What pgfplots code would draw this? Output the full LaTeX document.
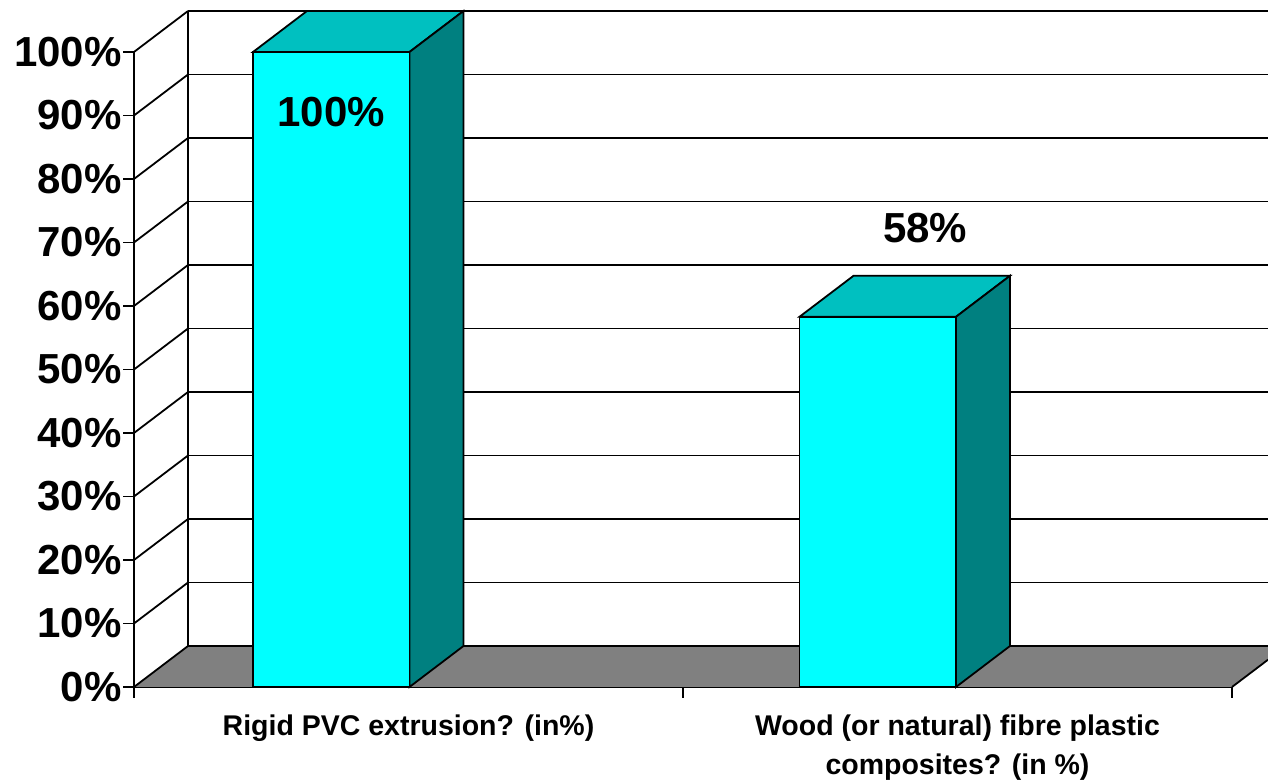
\documentclass[border=0pt]{standalone}
\usepackage{fontspec}
\setmainfont{Liberation Sans}
\usepackage{pgfplots}
\pgfplotsset{compat=1.18}
\usepackage{pgfplotstable}
\definecolor{barfront}{HTML}{00FFFF}
\definecolor{bartop}{HTML}{00C0C0}
\definecolor{barside}{HTML}{008080}
\definecolor{floorgray}{HTML}{808080}
% back wall grid lines and the diagonals that join them to the front axis
\pgfplotstableread{
x y
0.0984 6.457
2.0656 6.457
nan nan
0.0984 16.457
2.0656 16.457
nan nan
0.0984 26.457
2.0656 26.457
nan nan
0.0984 36.457
2.0656 36.457
nan nan
0.0984 46.457
2.0656 46.457
nan nan
0.0984 56.457
2.0656 56.457
nan nan
0.0984 66.457
2.0656 66.457
nan nan
0.0984 76.457
2.0656 76.457
nan nan
0.0984 86.457
2.0656 86.457
nan nan
0.0984 96.457
2.0656 96.457
nan nan
0.0984 106.457
2.0656 106.457
}\gridlines
\pgfplotstableread{
x y
0 0
0.0984 6.457
nan nan
0 10
0.0984 16.457
nan nan
0 20
0.0984 26.457
nan nan
0 30
0.0984 36.457
nan nan
0 40
0.0984 46.457
nan nan
0 50
0.0984 56.457
nan nan
0 60
0.0984 66.457
nan nan
0 70
0.0984 76.457
nan nan
0 80
0.0984 86.457
nan nan
0 90
0.0984 96.457
nan nan
0 100
0.0984 106.457
nan nan
0.0984 6.457
0.0984 106.457
nan nan
2 0
2.0656 4.3
}\walledges
\begin{document}
\begin{tikzpicture}
\path[use as bounding box] (0,0) rectangle (634pt,390pt);
\begin{axis}[
  at={(67pt,46.5pt)}, anchor=origin,
  scale only axis, width=549pt, height=317.5pt,
  xmin=0, xmax=2, ymin=0, ymax=100,
  clip=false,
  axis lines*=left,
  axis line style={black, line width=1pt, -},
  tick align=outside, major tick length=5.5pt,
  tick style={black, line width=0.9pt},
  ytick={0,10,...,100},
  yticklabels={0\%,10\%,20\%,30\%,40\%,50\%,60\%,70\%,80\%,90\%,100\%},
  yticklabel style={font=\fontsize{21}{24}\selectfont\bfseries, inner sep=0pt, xshift=-0.5pt},
  xtick={0,1,2}, xticklabels={,,},
  extra x ticks={0.5,1.5},
  extra x tick labels={Rigid PVC extrusion? (in\%),{Wood (or natural) fibre plastic\\composites? (in \%)}},
  extra x tick style={major tick length=0pt, tick style={draw=none},
    xticklabel style={font=\fontsize{14.25}{19.5}\selectfont\bfseries, align=center, anchor=north, inner sep=0pt, yshift=-13.5pt}},
]
% floor
\addplot[fill=floorgray, draw=none] coordinates {(0,0) (0.0984,6.457) (2.0656,6.457) (2.0656,4.3) (2,0)} \closedcycle;
% wall
\addplot[black, line width=0.9pt, unbounded coords=jump] table {\gridlines};
\addplot[black, line width=0.9pt, unbounded coords=jump] table {\walledges};
% bar 100
\addplot[fill=bartop, draw=black, line width=0.9pt] coordinates {(0.2168,100) (0.3151,106.457) (0.6002,106.457) (0.5018,100)} --cycle;
\addplot[fill=barside, draw=black, line width=0.9pt] coordinates {(0.5018,0) (0.6002,6.457) (0.6002,106.457) (0.5018,100)} --cycle;
% bar 58
\addplot[fill=bartop, draw=black, line width=0.9pt] coordinates {(1.2122,58.3) (1.3106,64.757) (1.5956,64.757) (1.4973,58.3)} --cycle;
\addplot[fill=barside, draw=black, line width=0.9pt] coordinates {(1.4973,0) (1.5956,6.457) (1.5956,64.757) (1.4973,58.3)} --cycle;
% bar fronts
\addplot[ybar, bar width=78.25pt, bar shift=0pt, fill=barfront, draw=black, line width=0.9pt] coordinates {(0.3593,100) (1.3547,58.3)};
% data labels
\addplot[draw=none, point meta=explicit symbolic, nodes near coords={\pgfplotspointmeta\%},
  nodes near coords align=center,
  every node near coord/.append style={font=\fontsize{21}{24}\selectfont\bfseries, text=black}]
  table[meta=label] {
x y label
0.359 90.5 100
1.441 72.2 58
};
\end{axis}
\end{tikzpicture}
\end{document}
